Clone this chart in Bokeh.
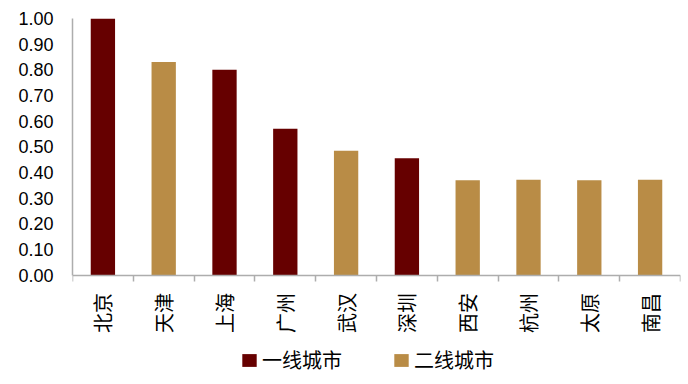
import math
from bokeh.plotting import figure
from bokeh.models import ColumnDataSource, Range1d, FixedTicker, NumeralTickFormatter, Legend, LegendItem
from bokeh.embed import file_html
from bokeh.resources import INLINE

cities = ["北京", "天津", "上海", "广州", "武汉", "深圳", "西安", "杭州", "太原", "南昌"]
values = [1.00, 0.83, 0.80, 0.57, 0.485, 0.455, 0.37, 0.372, 0.37, 0.372]
tiers = ["一线城市", "二线城市", "一线城市", "一线城市", "二线城市", "一线城市", "二线城市", "二线城市", "二线城市", "二线城市"]
tier_names = ["一线城市", "二线城市"]
tier_colors = {"一线城市": "#660000", "二线城市": "#B98C46"}
y_ticks = [0.0, 0.1, 0.2, 0.3, 0.4, 0.5, 0.6, 0.7, 0.8, 0.9, 1.0]

AXIS_GRAY = "#ADADAD"

# frame spans to the canvas bottom so the legend (inside the frame) is not clipped;
# the x axis sits at y=0 via fixed_location
p = figure(width=688, height=384, output_backend="svg", toolbar_location=None,
           x_range=Range1d(-0.5, len(cities) - 0.5), y_range=Range1d(-0.4264, 1.0),
           min_border_left=72, min_border_right=8, min_border_top=18, min_border_bottom=0)
p.xgrid.visible = False
p.ygrid.visible = False
p.outline_line_color = None

renderers = {}
for t in tier_names:
    idx = [i for i, tt in enumerate(tiers) if tt == t]
    src = ColumnDataSource(dict(x=idx, top=[values[i] for i in idx], city=[cities[i] for i in idx]))
    renderers[t] = p.vbar(x="x", top="top", bottom=0, width=0.4, source=src,
                          fill_color=tier_colors[t], line_color=None)

# x axis
xa = p.xaxis[0]
xa.fixed_location = 0
xa.ticker = FixedTicker(ticks=list(range(len(cities))),
                        minor_ticks=[i - 0.5 for i in range(len(cities) + 1)])
xa.major_label_overrides = {i: c for i, c in enumerate(cities)}
xa.major_label_orientation = math.pi / 2
xa.major_label_text_font = "Noto Sans CJK SC"
xa.major_label_text_font_size = "20px"
xa.major_label_text_color = "black"
xa.major_label_standoff = 12
xa.axis_line_color = AXIS_GRAY
xa.axis_line_width = 1.5
xa.major_tick_out = 0
xa.major_tick_in = 0
xa.minor_tick_out = 6
xa.minor_tick_in = 0
xa.minor_tick_line_color = AXIS_GRAY
xa.minor_tick_line_width = 1.5

# y axis
ya = p.yaxis[0]
ya.bounds = (0, 1.0)
ya.ticker = FixedTicker(ticks=y_ticks)
ya.formatter = NumeralTickFormatter(format="0.00")
ya.major_label_text_font = "Liberation Sans"
ya.major_label_text_font_size = "18px"
ya.major_label_text_color = "black"
ya.major_label_standoff = 19
ya.axis_line_color = AXIS_GRAY
ya.axis_line_width = 1.5
ya.major_tick_out = 0
ya.major_tick_in = 0
ya.minor_tick_line_color = None

legend = Legend(items=[LegendItem(label=t, renderers=[renderers[t]]) for t in tier_names],
                orientation="horizontal", location=(168, 10),
                border_line_color=None, background_fill_alpha=0,
                glyph_width=18, glyph_height=16, label_standoff=4, spacing=50,
                label_text_font="Noto Sans CJK SC", label_text_font_size="20px",
                label_text_color="black", padding=2, margin=0)
p.add_layout(legend, "center")

open("out.html", "w").write(file_html(p, INLINE))
